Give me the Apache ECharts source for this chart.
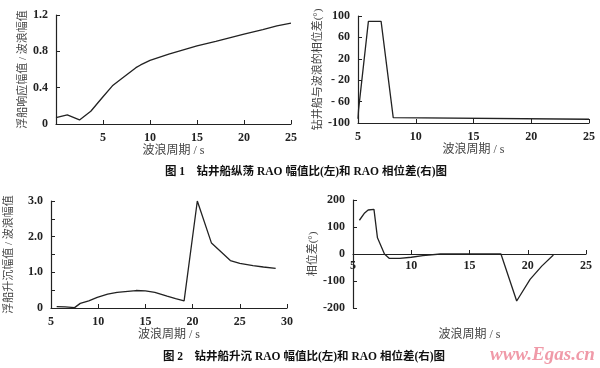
<!DOCTYPE html>
<html><head><meta charset="utf-8">
<script src="https://cdn.jsdelivr.net/npm/echarts@6/dist/echarts.min.js"></script>
<style>html,body{margin:0;padding:0;background:#fff}#c{width:600px;height:368px}</style>
</head><body><div id="c"></div>
<script>
// Fig.1 left: surge RAO amplitude ratio
const surgePeriod = [0, 1.2, 2.5, 3.7, 5, 6, 7, 8.5, 9, 10, 12, 13, 14, 15, 17, 20, 22, 23.5, 25];
const surgeAmp    = [0.07, 0.1, 0.045, 0.14, 0.30, 0.42, 0.50, 0.62, 0.65, 0.70, 0.77, 0.80, 0.83, 0.86, 0.91, 0.99, 1.04, 1.08, 1.11];
// Fig.1 right: surge RAO phase
const surgePhasePeriod = [5, 5.05, 5.9, 7, 8.05, 25];
const surgePhase       = [-92, -75, 90, 90, -90, -93];
// Fig.2 left: heave RAO amplitude ratio
const heavePeriod = [5.6, 6.5, 7.5, 8.1, 9, 9.9, 11, 12, 14, 15, 16, 17.3, 18.2, 19.1, 20.5, 22, 24, 25, 26.4, 27.5, 28.8];
const heaveAmp    = [0.04, 0.03, 0.01, 0.13, 0.2, 0.3, 0.39, 0.44, 0.49, 0.48, 0.44, 0.33, 0.26, 0.2, 3.0, 1.82, 1.33, 1.25, 1.19, 1.15, 1.11];
// Fig.2 right: heave RAO phase
const heavePhasePeriod = [5.55, 6.0, 6.3, 6.8, 7.1, 7.7, 8.1, 9, 10, 11, 12.5, 17.7, 19.05, 20.2, 21.2, 22.2];
const heavePhase       = [125, 152, 163, 165, 60, 0, -16, -16, -12, -6, 0, 0, -174, -94, -45, -4];

const xName = '波浪周期 / s';
const yNames = ['浮船响应幅值 / 波浪幅值', '钻井船与波浪的相位差(°)', '浮船升沉幅值 / 波浪幅值', '相位差(°)'];
const caption1 = '图 1    钻井船纵荡 RAO 幅值比(左)和 RAO 相位差(右)图';
const caption2 = '图 2    钻井船升沉 RAO 幅值比(左)和 RAO 相位差(右)图';

const zip = (a, b) => a.map((v, i) => [v, b[i]]);
const numFont = '"Liberation Serif", "DejaVu Serif", serif';
const mixFont = '"Liberation Serif", "Noto Sans CJK SC", serif';
const axisLineStyle = { color: '#222', width: 1.2 };
const axisTick = { show: true, inside: true, length: 4, lineStyle: { color: '#222' } };
const lbl = (extra) => Object.assign({ color: '#222', fontFamily: numFont, fontSize: 12, fontWeight: 'bold', margin: 8 }, extra || {});
const nameStyle = { color: '#444', fontFamily: mixFont, fontSize: 11 };

function xAx(gi, min, max, extraLbl, gap, offset) {
  return { gridIndex: gi, type: 'value', min, max, interval: 5, name: xName, nameLocation: 'middle', nameGap: gap,
    offset: offset || 0,
    nameTextStyle: Object.assign({}, nameStyle, { fontSize: 12 }),
    axisLine: { onZero: false, lineStyle: axisLineStyle }, axisTick, splitLine: { show: false }, axisLabel: lbl(extraLbl) };
}
function yAx(gi, min, max, interval, name, gap, extraLbl) {
  return { gridIndex: gi, type: 'value', min, max, interval, name, nameLocation: 'middle', nameGap: gap,
    nameTextStyle: nameStyle, axisLine: { show: true, lineStyle: axisLineStyle },
    axisTick, splitLine: { show: false }, axisLabel: lbl(extraLbl) };
}
const gridBase = { outerBoundsMode: 'none', containLabel: false };

const chart = echarts.init(document.getElementById('c'), null, { renderer: 'canvas' });
const lineStyle = { color: '#222', width: 1.3 };
chart.setOption({
  backgroundColor: '#fff',
  animation: false,
  grid: [
    Object.assign({ left: 56, top: 15, width: 235, height: 109 }, gridBase),
    Object.assign({ left: 358, top: 16, width: 231, height: 107 }, gridBase),
    Object.assign({ left: 51, top: 201, width: 236, height: 107 }, gridBase),
    Object.assign({ left: 353, top: 200, width: 233, height: 108 }, gridBase)
  ],
  xAxis: [
    xAx(0, 0, 25, { showMinLabel: false }, 20),
    xAx(1, 5, 25, {}, 20),
    xAx(2, 5, 30, {}, 19),
    xAx(3, 5, 25, { margin: 6 }, 75, -54)
  ],
  yAxis: [
    yAx(0, 0, 1.2, 0.4, yNames[0], 27, { formatter: v => v === 0 ? '0' : v.toFixed(1) }),
    yAx(1, -100, 100, 40, yNames[1], 28, { formatter: v => (v < 0 && v > -100) ? '- ' + (-v) : String(v) }),
    yAx(2, 0, 3, 0.5, yNames[2], 36, { formatter: v => Math.abs(v - Math.round(v)) > 1e-6 ? '' : (v === 0 ? '0' : v.toFixed(1)) }),
    yAx(3, -200, 200, 100, yNames[3], 32, {})
  ],
  series: [
    { type: 'line', xAxisIndex: 0, yAxisIndex: 0, data: zip(surgePeriod, surgeAmp), showSymbol: false, lineStyle },
    { type: 'line', xAxisIndex: 1, yAxisIndex: 1, data: zip(surgePhasePeriod, surgePhase), showSymbol: false, lineStyle },
    { type: 'line', xAxisIndex: 2, yAxisIndex: 2, data: zip(heavePeriod, heaveAmp), showSymbol: false, lineStyle },
    { type: 'line', xAxisIndex: 3, yAxisIndex: 3, data: zip(heavePhasePeriod, heavePhase), showSymbol: false, lineStyle }
  ],
  graphic: [
    { type: 'text', left: 165, top: 166, style: { text: caption1, fill: '#111', font: 'bold 11.5px ' + mixFont } },
    { type: 'text', left: 163, top: 351, style: { text: caption2, fill: '#111', font: 'bold 11.5px ' + mixFont } },
    { type: 'text', left: 490, top: 346, style: { text: 'www.Egas.cn', fill: '#f09aa8', font: 'italic bold 19px ' + numFont } }
  ]
});
</script></body></html>
